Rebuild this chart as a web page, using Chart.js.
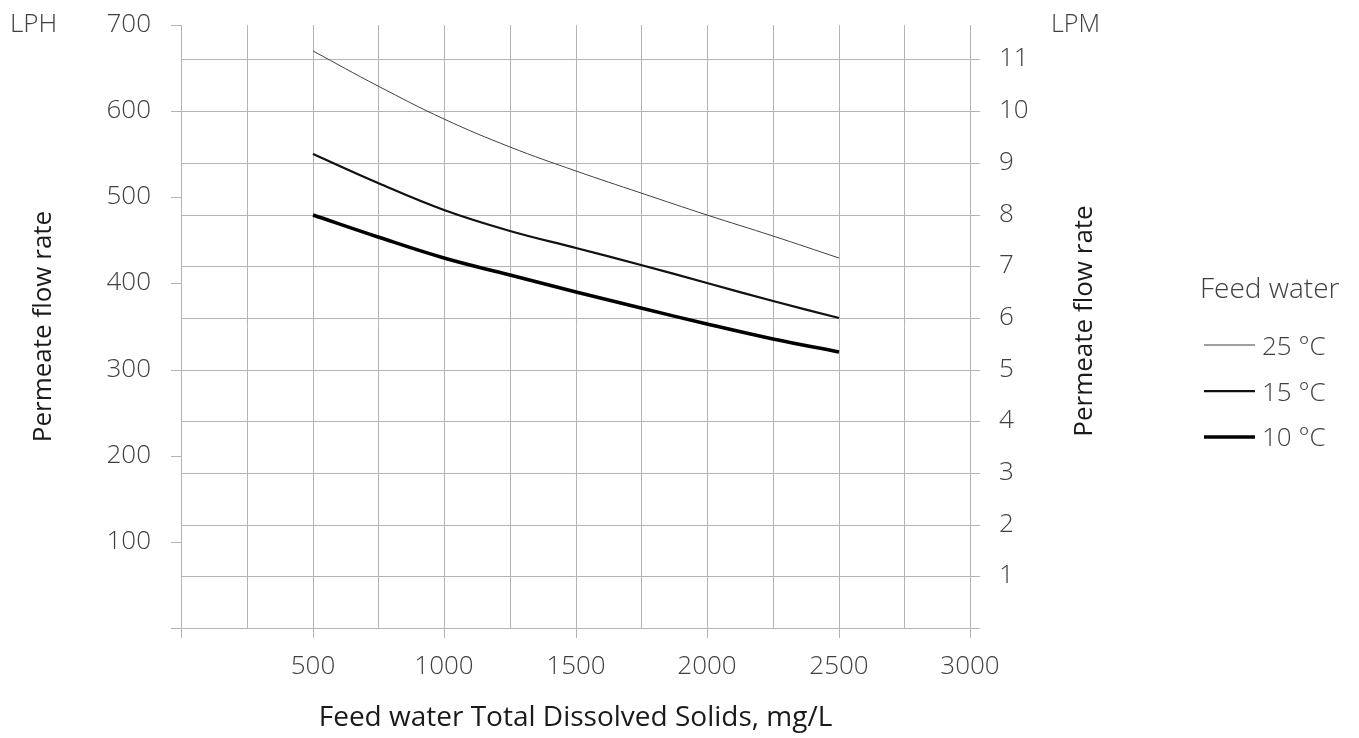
<!DOCTYPE html>
<html><head><meta charset="utf-8">
<script src="https://cdn.jsdelivr.net/npm/chart.js@4.4.1/dist/chart.umd.min.js"></script>
<style>html,body{margin:0;padding:0;background:#fff;overflow:hidden}#wrap{position:relative;width:1359px;height:738px}</style>
</head><body><div id="wrap"><canvas id="c" width="1359" height="738"></canvas></div>
<script>
// ---- data ----
const tdsValues = [500, 750, 1000, 1250, 1500, 1750, 2000, 2250, 2500];
const flow25C = [670, 629, 591, 558, 531, 505, 480, 455, 430];
const flow15C = [550, 517, 485, 461, 441, 421, 400, 380, 360];
const flow10C = [480, 454, 430, 410, 390, 371, 353, 336, 320];
const seriesLabels = ['25 °C', '15 °C', '10 °C'];
const xTickLabels = [500, 1000, 1500, 2000, 2500, 3000];
const lphTickLabels = [100, 200, 300, 400, 500, 600, 700];
const lpmTickLabels = [1, 2, 3, 4, 5, 6, 7, 8, 9, 10, 11];
const LPH_MAX = 700;
const LPH_PER_LPM = 60;
const TDS_MAX = 3000;

// ---- styles ----
const GRID = '#b4b4b4';
const TEXT = '#404040';
const TITLE = '#1a1a1a';
const FONT_FAMILY = "'Open Sans', 'DejaVu Sans', sans-serif";
const FS = 26;
const FS_TITLE = 28;
const FS_YTITLE = 26;

function pts(ys) { return tdsValues.map((x, i) => ({x: x, y: ys[i]})); }

const extraText = {
  id: 'extraText',
  afterDraw(chart) {
    const ctx = chart.ctx;
    ctx.save();
    ctx.fillStyle = TEXT;
    ctx.font = `300 ${FS}px ${FONT_FAMILY}`;
    ctx.textBaseline = 'alphabetic';
    ctx.textAlign = 'left';
    ctx.fillText('LPH', 10, 32);
    ctx.font = `300 25px ${FONT_FAMILY}`;
    ctx.fillText('LPM', 1051, 32);
    // right axis title
    ctx.save();
    ctx.fillStyle = TITLE;
    ctx.font = `400 ${FS_YTITLE}px ${FONT_FAMILY}`;
    ctx.translate(1085, 321);
    ctx.rotate(-Math.PI / 2);
    ctx.textAlign = 'center';
    ctx.textBaseline = 'middle';
    ctx.fillText('Permeate flow rate', 0, 0);
    ctx.restore();
    // legend
    ctx.font = `300 ${FS_TITLE}px ${FONT_FAMILY}`;
    ctx.fillText('Feed water', 1200, 298);
    ctx.font = `300 ${FS}px ${FONT_FAMILY}`;
    const rows = [[345, 355], [391, 401], [437, 446]];
    chart.data.datasets.forEach((ds, i) => {
      ctx.beginPath();
      ctx.strokeStyle = ds.borderColor;
      ctx.lineWidth = ds.borderWidth;
      ctx.moveTo(1204, rows[i][0]);
      ctx.lineTo(1255, rows[i][0]);
      ctx.stroke();
      ctx.fillStyle = TEXT;
      ctx.fillText(ds.label, 1262, rows[i][1]);
    });
    ctx.restore();
  }
};

function noPad(s) { s.paddingTop = 0; s.paddingBottom = 0; s.paddingLeft = 0; s.paddingRight = 0; }

new Chart(document.getElementById('c'), {
  type: 'line',
  data: {
    datasets: [
      {label: seriesLabels[0], data: pts(flow25C), borderColor: '#404040', borderWidth: 1, yAxisID: 'y'},
      {label: seriesLabels[1], data: pts(flow15C), borderColor: '#111111', borderWidth: 2.25, yAxisID: 'y'},
      {label: seriesLabels[2], data: pts(flow10C), borderColor: '#000000', borderWidth: 3.5, yAxisID: 'y'}
    ]
  },
  options: {
    responsive: false,
    animation: false,
    devicePixelRatio: 1,
    layout: {padding: {top: 25, left: 0, right: 0, bottom: 0}},
    elements: {point: {radius: 0}, line: {tension: 0.4, fill: false}},
    plugins: {legend: {display: false}, tooltip: {enabled: false}},
    scales: {
      x: {
        type: 'linear', position: 'bottom', min: 0, max: TDS_MAX,
        alignToPixels: true,
        ticks: {
          stepSize: 250, autoSkip: false, maxRotation: 0, padding: 13,
          color: TEXT, font: {family: FONT_FAMILY, size: FS, weight: '300'},
          callback: v => xTickLabels.includes(v) ? String(v) : ''
        },
        grid: {
          color: GRID, lineWidth: 1, tickLength: 10,
          tickColor: c => (c.tick && c.tick.value % 500 === 0) ? GRID : 'rgba(0,0,0,0)'
        },
        border: {color: GRID, width: 1},
        title: {display: true, text: 'Feed water Total Dissolved Solids, mg/L', color: TITLE,
          font: {family: FONT_FAMILY, size: FS_TITLE, weight: '400'}, padding: {top: 0, bottom: 3}},
        afterFit: s => { s.height = 110; noPad(s); }
      },
      y: {
        type: 'linear', position: 'left', min: 0, max: LPH_MAX,
        alignToPixels: true,
        ticks: {
          stepSize: 100, includeBounds: false, padding: 20,
          color: TEXT, font: {family: FONT_FAMILY, size: FS, weight: '300'},
          callback: v => lphTickLabels.includes(v) ? String(v) : ''
        },
        grid: {drawOnChartArea: false, color: GRID, tickColor: GRID, tickLength: 10, lineWidth: 1},
        border: {color: GRID, width: 1},
        title: {display: true, text: 'Permeate flow rate', color: TITLE,
          font: {family: FONT_FAMILY, size: FS_YTITLE, weight: '400'}, padding: {top: 28, bottom: 0}},
        afterFit: s => { s.width = 181; noPad(s); }
      },
      y2: {
        type: 'linear', position: 'right', min: 0, max: LPH_MAX / LPH_PER_LPM,
        alignToPixels: true,
        ticks: {
          stepSize: 1, includeBounds: false, padding: 19,
          color: TEXT, font: {family: FONT_FAMILY, size: FS, weight: '300'},
          callback: v => lpmTickLabels.includes(v) ? String(v) : ''
        },
        grid: {drawOnChartArea: true, color: GRID, tickColor: GRID, tickLength: 10, lineWidth: 1},
        border: {color: GRID, width: 1},
        title: {display: false},
        afterFit: s => { s.width = 389; noPad(s); }
      }
    }
  },
  plugins: [extraText]
});
</script>
</body></html>
